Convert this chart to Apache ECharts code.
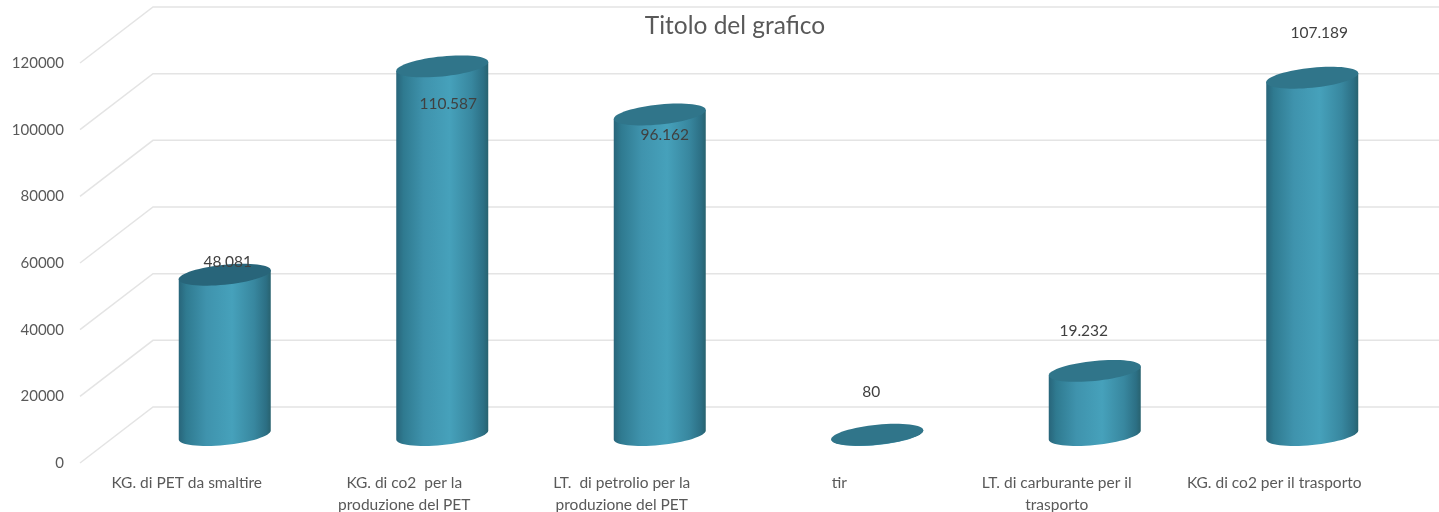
<!DOCTYPE html>
<html><head><meta charset="utf-8">
<style>html,body{margin:0;padding:0;background:#fff}#c{width:1439px;height:512px}</style>
<script src="https://cdn.jsdelivr.net/npm/echarts@6/dist/echarts.min.js"></script>
</head><body><div id="c"></div>
<script>
const categories = ['KG. di PET da smaltire','KG. di co2  per la\nproduzione del PET','LT.  di petrolio per la\nproduzione del PET','tir','LT. di carburante per il\ntrasporto','KG. di co2 per il trasporto'];
const values = [48081,110587,96162,80,19232,107189];
const valueTicks = [0,20000,40000,60000,80000,100000,120000];
// layout only: 3D depth, cylinder shape, and hand-placed label offsets
const depthX = 73, depthY = 56, barDepthX = 38, barDepthY = 28;
const rx = 46, shear = 4.5, ry = 10;
const labelDx = [3,6,5,-6,-11,7];
const labelDy = [-13,38,21,-43,-40,-45];
const topColors = ['#28657a','#30758a','#30758a','#30758a','#30758a','#30758a'];
const font = 'Lato, "Open Sans", sans-serif';

const chart = echarts.init(document.getElementById('c'), null, {renderer:'canvas'});
const fmt = v => String(v).replace(/\B(?=(\d{3})+(?!\d))/g,'.');
const bodyFill = new echarts.graphic.LinearGradient(0,0,1,0,[
  {offset:0,color:'#28657a'},{offset:0.08,color:'#2f7a90'},{offset:0.3,color:'#3f93ad'},
  {offset:0.58,color:'#46a1bb'},{offset:0.82,color:'#38879f'},{offset:0.95,color:'#2c6f84'},{offset:1,color:'#28626f'}]);

function arc(cx,cy,a0,a1,n){
  const p=[];
  for(let i=0;i<=n;i++){
    const t=a0+(a1-a0)*i/n;
    p.push([cx+rx*Math.cos(t), cy-shear*Math.cos(t)+ry*Math.sin(t)]);
  }
  return p;
}
chart.setOption({
  animation:false,
  backgroundColor:'#fff',
  title:{text:'Titolo del grafico',left:730,top:9,textAlign:'center',
    textStyle:{color:'#595959',fontFamily:font,fontSize:24.5,fontWeight:'normal'}},
  grid:{left:78,right:56,top:63,bottom:49,outerBoundsMode:'none'},
  xAxis:{type:'category',data:categories,axisLine:{show:false},axisTick:{show:false},
    axisLabel:{color:'#595959',fontFamily:font,fontSize:15.5,lineHeight:22,margin:9,interval:0,hideOverlap:false},splitLine:{show:false}},
  yAxis:{type:'value',min:0,max:120000,interval:20000,axisLine:{show:false},axisTick:{show:false},
    axisLabel:{color:'#595959',fontFamily:font,fontSize:15,margin:14,padding:[3,0,0,0],formatter:v=>String(v)},splitLine:{show:false}},
  series:[
    {type:'custom',silent:true,clip:false,z:1,coordinateSystem:'cartesian2d',encode:{x:0,y:1},
     data:valueTicks.map(v=>[0,v]),
     renderItem(params,api){
       const y=api.coord([0,api.value(1)])[1];
       const x=params.coordSys.x+2;
       return {type:'polyline',shape:{points:[[x,y],[x+depthX,y-depthY],[1439,y-depthY]]},
         style:{stroke:'#e4e4e4',lineWidth:1.5,fill:null}};
     }},
    {type:'custom',silent:true,clip:false,z:2,coordinateSystem:'cartesian2d',encode:{x:0,y:1},
     data:values.map((v,i)=>[i,v]),
     renderItem(params,api){
       const i=params.dataIndex, v=api.value(1);
       const base=api.coord([i,0]), top=api.coord([i,v]);
       const cx=base[0]+barDepthX, by=base[1]-barDepthY, ty=top[1]-barDepthY;
       const body=[[cx-rx,ty+shear],[cx+rx,ty-shear]].concat(arc(cx,by,0,Math.PI,32));
       return {type:'group',children:[
         {type:'polygon',shape:{points:body},style:{fill:bodyFill}},
         {type:'polygon',shape:{points:arc(cx,ty,0,Math.PI*2,64)},style:{fill:topColors[i]}},
         {type:'text',z2:10,style:{text:fmt(v),x:cx+labelDx[i],y:ty+labelDy[i],align:'center',verticalAlign:'middle',
           fill:'#404040',font:'15.5px '+font}}
       ]};
     }}
  ]
});
</script></body></html>
